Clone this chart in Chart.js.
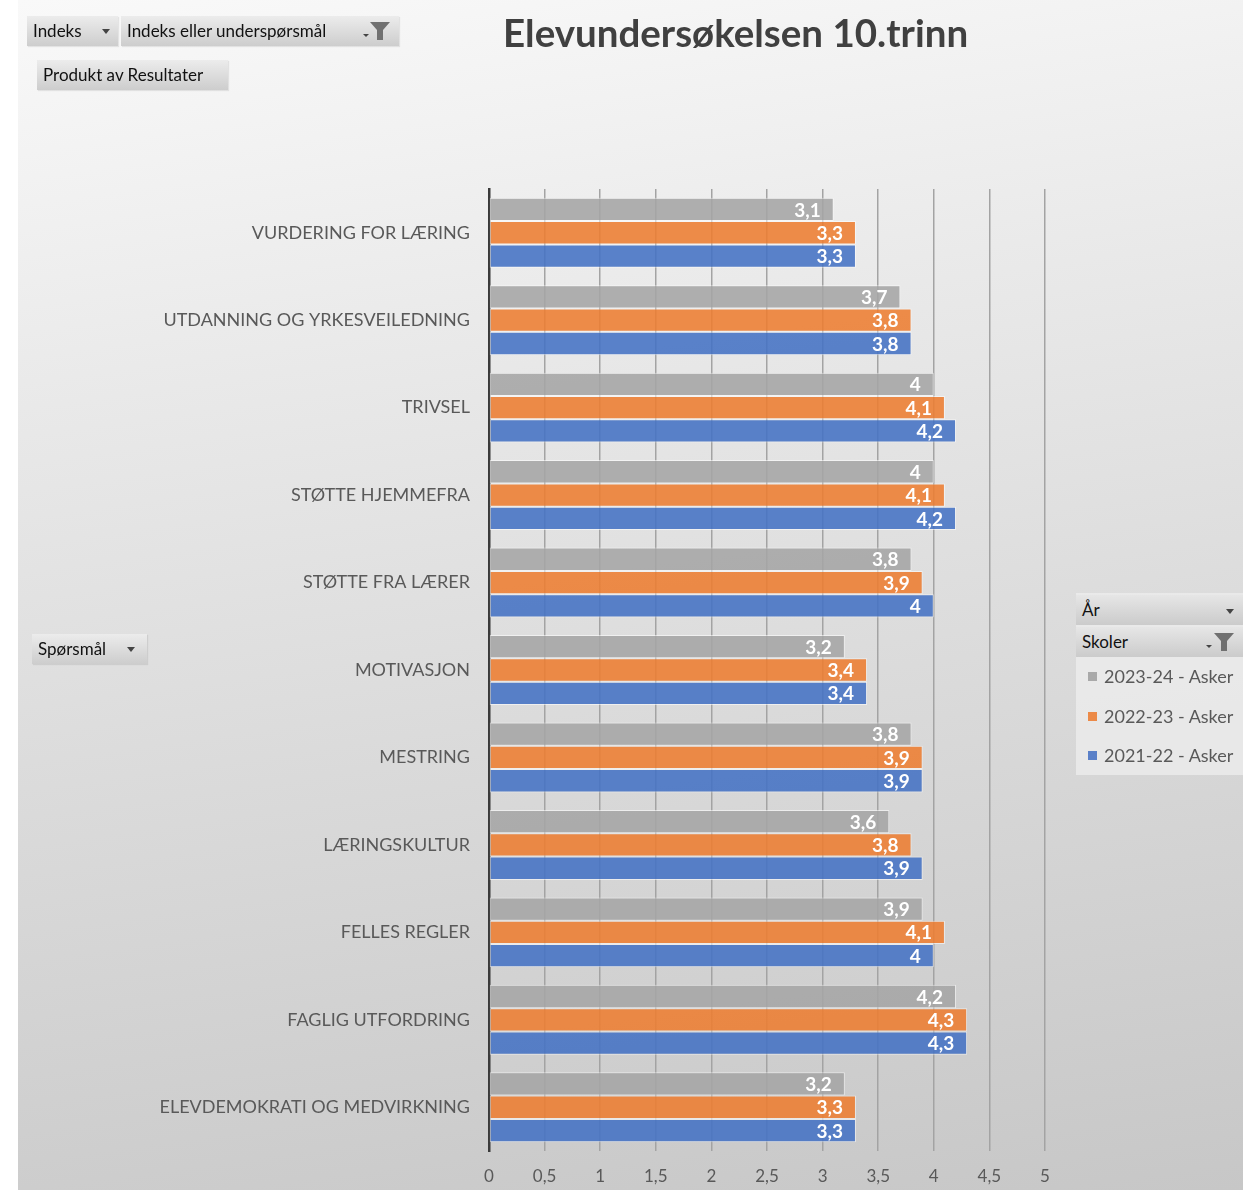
<!DOCTYPE html>
<html>
<head>
<meta charset="utf-8">
<script src="https://cdn.jsdelivr.net/npm/chart.js@4.4.1/dist/chart.umd.min.js"></script>
<style>
  html, body { margin: 0; padding: 0; background: #fff; }
  #wrap { position: relative; width: 1243px; height: 1190px; overflow: hidden; font-family: Lato, "Open Sans", sans-serif; }
  #bg { position: absolute; left: 18px; top: 0; right: 0; bottom: 0;
        background: linear-gradient(172deg, #f9f9f9 0%, #e9e9e9 30%, #dadada 60%, #c7c7c7 100%); }
  #chart { position: absolute; left: 0; top: 0; }
  .title { position: absolute; left: 503px; top: 9px; font-size: 38.5px; font-weight: bold; color: #404040; white-space: nowrap; }
  .btn { position: absolute; height: 30px; line-height: 30px; font-size: 17px; color: #111; white-space: nowrap;
         background: linear-gradient(#ececec, #cdcdcd); padding: 0 6px; box-sizing: border-box;
         box-shadow: 1px 1px 1px rgba(0,0,0,0.08); }
  .arrow { position: absolute; width: 0; height: 0; border-left: 4px solid transparent; border-right: 4px solid transparent; border-top: 5px solid #444; }
  .funnel { position: absolute; }
  #legend { position: absolute; left: 1076px; top: 593px; width: 167px; height: 182px; background: rgba(238,238,238,0.75); }
  .lhead { position: absolute; left: 0; width: 167px; height: 30px; line-height: 30px; font-size: 17px; color: #111; padding-left: 6px; box-sizing: border-box;
           background: linear-gradient(#e6e6e6, #cbcbcb); }
  .litem { position: absolute; left: 12px; font-size: 18px; color: #595959; white-space: nowrap; line-height: 22px; }
  .litem i { display: inline-block; width: 9px; height: 9px; margin-right: 7px; vertical-align: 2px; }
</style>
</head>
<body>
<div id="wrap">
  <div id="bg"></div>
  <canvas id="chart" width="1243" height="1190"></canvas>
  <div class="title">Elevundersøkelsen 10.trinn</div>

  <div class="btn" style="left:27px;top:16px;width:91px;">Indeks<span class="arrow" style="left:75px;top:13px;"></span></div>
  <div class="btn" style="left:121px;top:16px;width:278px;">Indeks eller underspørsmål
    <span class="arrow" style="left:242px;top:18px;border-width:3px 3px 3px 3px;border-top-width:3px;"></span>
    <svg class="funnel" style="left:248px;top:5px;" width="22" height="20"><polygon points="1,1 21,1 14,9 14,19 8,19 8,9" fill="#707070"/></svg>
  </div>
  <div class="btn" style="left:37px;top:60px;width:191px;">Produkt av Resultater</div>
  <div class="btn" style="left:32px;top:634px;width:115px;">Spørsmål<span class="arrow" style="left:95px;top:13px;"></span></div>

  <div id="legend">
    <div class="lhead" style="top:2px;">År<span class="arrow" style="left:150px;top:14px;"></span></div>
    <div class="lhead" style="top:34px;">Skoler
      <span class="arrow" style="left:130px;top:18px;border-width:3px;"></span>
      <svg class="funnel" style="left:137px;top:5px;" width="22" height="20"><polygon points="1,1 21,1 14,9 14,19 8,19 8,9" fill="#707070"/></svg>
    </div>
  </div>
</div>

<script>
(function () {
  var categories = [
    'VURDERING FOR LÆRING',
    'UTDANNING OG YRKESVEILEDNING',
    'TRIVSEL',
    'STØTTE HJEMMEFRA',
    'STØTTE FRA LÆRER',
    'MOTIVASJON',
    'MESTRING',
    'LÆRINGSKULTUR',
    'FELLES REGLER',
    'FAGLIG UTFORDRING',
    'ELEVDEMOKRATI OG MEDVIRKNING'
  ];

  var seriesNames = ['2023-24 - Asker', '2022-23 - Asker', '2021-22 - Asker'];
  var values2023 = [3.1, 3.7, 4, 4, 3.8, 3.2, 3.8, 3.6, 3.9, 4.2, 3.2];
  var values2022 = [3.3, 3.8, 4.1, 4.1, 3.9, 3.4, 3.9, 3.8, 4.1, 4.3, 3.3];
  var values2021 = [3.3, 3.8, 4.2, 4.2, 4, 3.4, 3.9, 3.9, 4, 4.3, 3.3];
  var xTickLabels = ['0', '0,5', '1', '1,5', '2', '2,5', '3', '3,5', '4', '4,5', '5'];

  var fills = ['rgba(165, 165, 165, 0.88)', 'rgba(237, 125, 49, 0.88)', 'rgba(68, 114, 196, 0.88)'];
  var swatches = ['#a9a9a9', '#ec8a48', '#5a80c8'];

  function formatNum(v) {
    return String(v).replace('.', ',');
  }

  // legend entries (the pivot field list on the right)
  var legend = document.getElementById('legend');
  seriesNames.forEach(function (name, i) {
    var el = document.createElement('div');
    el.className = 'litem';
    el.style.top = (72 + i * 39.5) + 'px';
    el.innerHTML = '<i style="background:' + swatches[i] + '"></i>' + name;
    legend.appendChild(el);
  });

  var barValueLabels = {
    id: 'barValueLabels',
    afterDatasetsDraw: function (chart) {
      var ctx = chart.ctx;
      ctx.save();
      ctx.font = 'bold 19px Lato';
      ctx.fillStyle = '#ffffff';
      ctx.textAlign = 'right';
      ctx.textBaseline = 'middle';
      chart.data.datasets.forEach(function (ds, di) {
        chart.getDatasetMeta(di).data.forEach(function (bar, i) {
          ctx.fillText(formatNum(ds.data[i]), bar.x - 13, bar.y + 1);
        });
      });
      ctx.restore();
    }
  };

  var seriesValues = [values2023, values2022, values2021];

  new Chart(document.getElementById('chart'), {
    type: 'bar',
    data: {
      labels: categories,
      datasets: seriesValues.map(function (vals, i) {
        return {
          label: seriesNames[i],
          data: vals,
          backgroundColor: fills[i],
          borderColor: 'rgba(255, 255, 255, 0.55)',
          borderWidth: 1,
          borderSkipped: false,
          categoryPercentage: 0.8,
          barPercentage: 1
        };
      })
    },
    options: {
      indexAxis: 'y',
      responsive: false,
      animation: false,
      layout: { padding: { top: 189, right: 198, bottom: 0, left: 0 } },
      plugins: {
        legend: { display: false },
        tooltip: { enabled: false }
      },
      scales: {
        x: {
          min: 0,
          max: 5,
          ticks: {
            stepSize: 0.5,
            color: '#595959',
            font: { family: 'Lato', size: 17 },
            padding: 15,
            callback: function (val, i) { return xTickLabels[i]; }
          },
          grid: { color: '#a3a3a3', lineWidth: 1.5, drawTicks: false },
          border: { display: false },
          afterFit: function (scale) { scale.height = 39; }
        },
        y: {
          ticks: {
            color: '#595959',
            font: { family: 'Lato', size: 18 },
            padding: 19
          },
          grid: { display: false, drawTicks: false },
          border: { color: '#3a3a3a', width: 2.5 },
          afterFit: function (scale) { scale.width = 489; }
        }
      }
    },
    plugins: [barValueLabels]
  });
})();
</script>
</body>
</html>
